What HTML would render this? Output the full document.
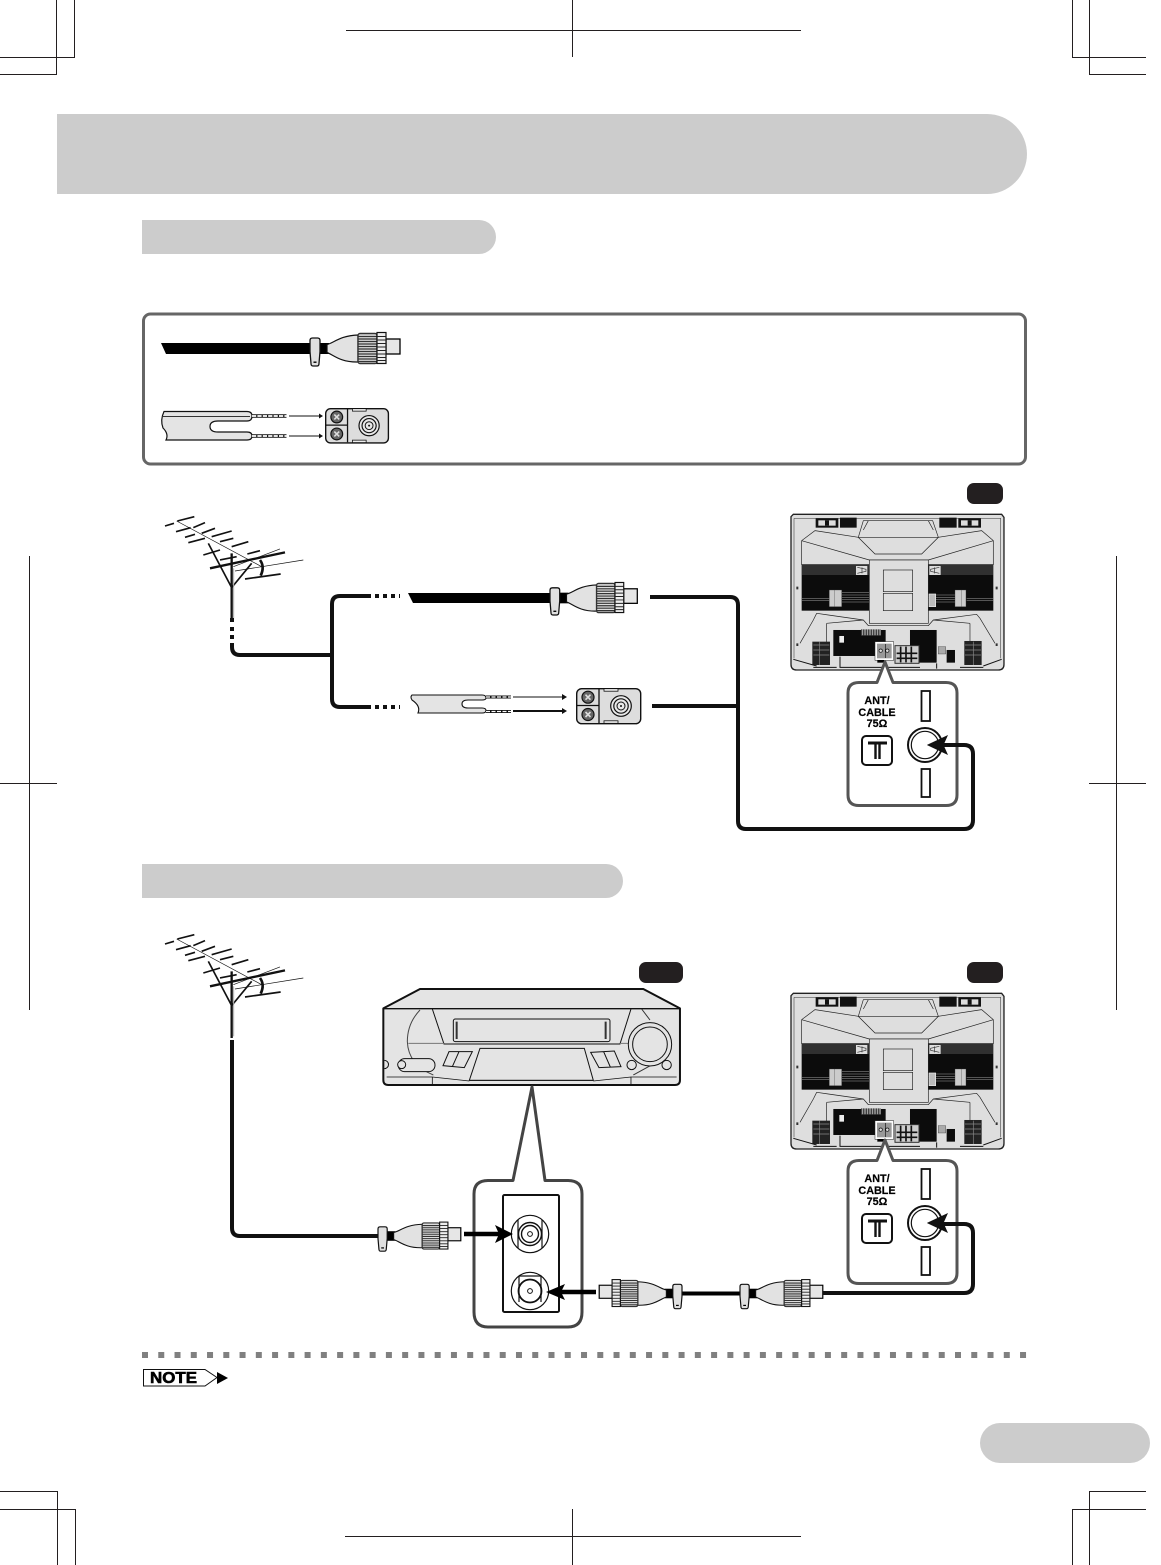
<!DOCTYPE html>
<html><head><meta charset="utf-8"><style>
html,body{margin:0;padding:0;background:#fff;width:1161px;height:1565px;overflow:hidden}
svg{display:block}
text{font-family:"Liberation Sans",sans-serif;font-weight:bold;fill:#000}
</style></head><body>
<svg width="1161" height="1565" viewBox="0 0 1161 1565" xmlns="http://www.w3.org/2000/svg">
<defs>
<g id="coax">
  <rect x="9" y="-5.5" width="10" height="11" fill="#000"/>
  <path d="M17,-4 C23,-5 30,-13 48,-13.5 L48,13.5 C30,14 23,6 17,4 Z" fill="#e2e2e2" stroke="#111" stroke-width="1.2"/>
  <rect x="76" y="-9.5" width="14" height="15" fill="#e6e6e6" stroke="#000" stroke-width="1.3"/>
  <rect x="48" y="-15" width="19" height="30" rx="2" fill="#ddd" stroke="#333" stroke-width="1.4"/>
  <path d="M48,-12H67M48,-9.5H67M48,-7H67M48,-4.5H67M48,-2H67M48,.5H67M48,3H67M48,5.5H67M48,8H67M48,10.5H67M48,13H67" stroke="#333" stroke-width="1.2"/>
  <rect x="67" y="-16" width="9" height="31" fill="#eee" stroke="#111" stroke-width="1.2"/>
  <path d="M67,-12H76M67,-8.5H76M67,-5H76M67,-1.5H76M67,2H76M67,5.5H76M67,9H76M67,12H76" stroke="#222" stroke-width="1"/>
  <path d="M2.5,-10.5H7.5Q10,-10.5 10,-8V3L9,15Q9,17.5 7,17.5H3Q1,17.5 1,15L0,3V-8Q0,-10.5 2.5,-10.5Z" fill="#e0e0e0" stroke="#111" stroke-width="1.3"/>
  <rect x="3.5" y="13" width="3" height="1.4" fill="#000"/>
</g>
<g id="term">
  <rect x="0.7" y="0.7" width="64" height="35" rx="5" fill="#ddd" stroke="#111" stroke-width="1.4"/>
  <path d="M23,1V35M1,17.5H23" stroke="#111" stroke-width="1.3" fill="none"/>
  <rect x="28" y="0.7" width="14" height="2.5" fill="#eee" stroke="#111" stroke-width=".8"/>
  <rect x="28" y="32.8" width="14" height="2.5" fill="#eee" stroke="#111" stroke-width=".8"/>
  <circle cx="12" cy="9.2" r="6" fill="#666" stroke="#111" stroke-width="1.2"/>
  <circle cx="12" cy="26.5" r="6" fill="#666" stroke="#111" stroke-width="1.2"/>
  <path d="M9.5,6.7L14.5,11.7M14.5,6.7L9.5,11.7M9.5,24L14.5,29M14.5,24L9.5,29" stroke="#ddd" stroke-width="1.6"/>
  <circle cx="45" cy="18" r="10.3" fill="#e8e8e8" stroke="#111" stroke-width="1.2"/>
  <circle cx="45" cy="18" r="7.2" fill="none" stroke="#111" stroke-width="1.2"/>
  <circle cx="45" cy="18" r="4" fill="none" stroke="#111"/>
  <circle cx="45" cy="18" r="1" fill="#111"/>
</g>
<g id="antenna" fill="none" stroke="#111" stroke-linecap="butt">
  <g transform="translate(150,505) scale(.3333)">
    <path d="M80,48L335,185" stroke-width="2"/>
    <path d="M82,48L133,35M45,63L72,55M78,80L122,68M130,68L165,53M105,97L135,88M155,85L195,70M115,113L165,100M185,95L245,78M210,110L250,100M245,125L295,110M160,150L210,135M292,147L330,137M210,165L260,155" stroke-width="5"/>
    <path d="M180,190L405,142" stroke-width="7"/>
    <path d="M255,198L460,165M250,185L390,132" stroke-width="2"/>
    <path d="M285,222L392,207" stroke-width="5"/>
    <path d="M175,115L245,248L305,175" stroke-width="5"/>
    <path d="M245,145V345" stroke-width="7"/>
    <path d="M251,190V340" stroke="#aaa" stroke-width="3"/>
    <path d="M330,165Q345,185 332,212" stroke-width="8"/>
  </g>
</g>
<g id="tv" transform="translate(780,480) scale(.3333)">
  <path d="M33,110L40,103H665L672,112V553Q672,570 655,570H50Q33,570 33,553Z" fill="#dedede" stroke="#222" stroke-width="4"/>
  <path d="M42,115H662V535M42,115V535" fill="none" stroke="#555" stroke-width="2"/>
  <rect x="107" y="115" width="68" height="28" fill="#111"/><rect x="115" y="121" width="52" height="16" fill="#ddd"/><rect x="135" y="121" width="12" height="16" fill="#111"/>
  <rect x="180" y="113" width="50" height="30" fill="#111"/>
  <rect x="478" y="113" width="52" height="30" fill="#111"/>
  <rect x="535" y="115" width="68" height="28" fill="#111"/><rect x="543" y="121" width="52" height="16" fill="#ddd"/><rect x="563" y="121" width="12" height="16" fill="#111"/>
  <path d="M250,122H458L475,172H235ZM265,122L250,150M445,122L460,150" fill="none" stroke="#222" stroke-width="2"/>
  <path d="M65,255V182L105,152L235,172L285,222H425L475,172L605,152L640,182V255M65,182L268,240H445L640,182" fill="none" stroke="#222" stroke-width="2"/>
  <rect x="65" y="253" width="217" height="139" fill="#0c0c0c"/>
  <rect x="427" y="253" width="213" height="139" fill="#0c0c0c"/>
  <path d="M66,258H282M66,264H282M66,270H282M66,276H282M66,282H282M427,258H640M427,264H640M427,270H640M427,276H640M427,282H640M186,338H282M186,345H282M186,352H282M186,359H282M186,366H282M66,356H150M66,362H150M560,356H640M560,362H640M430,345H525M430,352H525M430,359H525M430,366H525" stroke="#6e6e6e" stroke-width="2.2"/>
  <rect x="228" y="258" width="34" height="27" fill="#ddd"/>
  <path d="M232,262L258,268V274L232,280M246,262V280" stroke="#333" stroke-width="2" fill="none"/>
  <rect x="448" y="258" width="34" height="27" fill="#ddd"/>
  <path d="M478,262L452,268V274L478,280M464,262V280" stroke="#333" stroke-width="2" fill="none"/>
  <rect x="148" y="330" width="37" height="50" fill="#ccc" stroke="#333"/><path d="M163,330V380" stroke="#444"/>
  <rect x="525" y="330" width="33" height="50" fill="#ccc" stroke="#333"/><path d="M545,330V380" stroke="#444"/>
  <rect x="447" y="342" width="20" height="38" fill="#bbb" stroke="#eee" stroke-width="2"/>
  <rect x="268" y="240" width="177" height="190" fill="#dedede" stroke="#222" stroke-width="2"/>
  <rect x="310" y="270" width="88" height="65" fill="none" stroke="#222" stroke-width="2"/>
  <rect x="310" y="340" width="88" height="52" fill="none" stroke="#222" stroke-width="2"/>
  <path d="M52,320v8M650,320v8M52,490v8M650,490v8" stroke="#333" stroke-width="6"/>
  <path d="M110,400L145,405L250,420L265,437H445L460,420L590,403L600,415L645,490M110,400L100,420L60,490M140,430V530M570,430V530M140,430L250,420M570,430L460,420" fill="none" stroke="#222" stroke-width="2"/>
  <rect x="160" y="450" width="157" height="78" fill="#0c0c0c"/><rect x="178" y="468" width="14" height="20" fill="#eee"/>
  <rect x="243" y="448" width="60" height="18" fill="#ddd"/>
  <path d="M245,448V466M250,448V466M255,448V466M260,448V466M265,448V466M270,448V466M275,448V466M280,448V466M285,448V466M290,448V466M295,448V466M300,448V466" stroke="#222" stroke-width="3"/>
  <rect x="390" y="450" width="80" height="98" fill="#0c0c0c"/><rect x="500" y="510" width="25" height="38" fill="#0c0c0c"/>
  <rect x="475" y="500" width="22" height="22" fill="#aaa" stroke="#222"/>
  <rect x="97" y="485" width="53" height="70" fill="#222"/><rect x="553" y="483" width="52" height="72" fill="#222"/>
  <path d="M100,495H148M100,510H148M100,525H148M555,495H603M555,510H603M555,525H603M118,485V555M580,485V555" stroke="#888" stroke-width="2"/>
  <rect x="345" y="497" width="72" height="53" fill="#ccc" stroke="#333" stroke-width="3"/>
  <path d="M362,500V547M378,500V547M394,500V547M350,520H412M350,535H412" stroke="#111" stroke-width="5"/>
  <rect x="288" y="488" width="50" height="50" fill="#999" stroke="#fff" stroke-width="6"/>
  <rect x="285" y="485" width="56" height="56" fill="none" stroke="#222" stroke-width="1.5"/>
  <path d="M316,492V534" stroke="#111" stroke-width="2"/>
  <circle cx="302" cy="512" r="5" fill="#ddd" stroke="#111" stroke-width="2"/><circle cx="322" cy="512" r="5" fill="#ddd" stroke="#111" stroke-width="2"/>
  <rect x="292" y="540" width="20" height="8" fill="#000"/>
  <path d="M40,538L110,558M665,538L610,558M100,562H170M540,562H610M180,530V562H420M470,550V566" fill="none" stroke="#111" stroke-width="3"/>
</g>
<g id="callout">
  <path d="M861,682.5 L877,682.5 L885,662 L893,682.5 H946 Q957,682.5 957,693 V795 Q957,805.5 946,805.5 H859 Q848,805.5 848,795 V693 Q848,682.5 859,682.5Z" fill="#fff" stroke="#555" stroke-width="3" stroke-linejoin="round"/>
  <text x="877" y="704" font-size="10.8" text-anchor="middle" stroke="#000" stroke-width=".2">ANT/</text>
  <text x="877" y="716" font-size="10.8" text-anchor="middle" stroke="#000" stroke-width=".2">CABLE</text>
  <text x="877" y="727" font-size="10.8" text-anchor="middle" stroke="#000" stroke-width=".2">75Ω</text>
  <rect x="862" y="736" width="30" height="29" rx="4" fill="#fff" stroke="#111" stroke-width="2"/>
  <path d="M868,743H887" stroke="#111" stroke-width="3" fill="none"/>
  <path d="M875.5,743V759M879.5,743V759" stroke="#111" stroke-width="2.4" fill="none"/>
  <rect x="921.5" y="691" width="8.5" height="30" fill="#fff" stroke="#111" stroke-width="1.8"/>
  <rect x="921.5" y="769" width="8.5" height="28" fill="#fff" stroke="#111" stroke-width="1.8"/>
  <circle cx="925" cy="745" r="17" fill="#fff" stroke="#111" stroke-width="2"/>
  <circle cx="925" cy="745" r="13.7" fill="#fff" stroke="#111" stroke-width="1.2"/>
</g>
</defs>

<!-- crop marks -->
<g stroke="#231f20" stroke-width="1" fill="none" shape-rendering="crispEdges">
  <path d="M56.5,0V74.5H0M74.5,0V57.5H0"/>
  <path d="M1089.5,0V74.5H1146M1072.5,0V57.5H1146"/>
  <path d="M57.5,1565V1491.5H0M75.5,1565V1509.5H0"/>
  <path d="M1072.5,1565V1509.5H1146M1089.5,1565V1491.5H1146"/>
  <path d="M346,30.5H801M572.5,0V57"/>
  <path d="M345,1536.5H801M572.5,1509V1565"/>
  <path d="M29.5,556V1010M0,783.5H57"/>
  <path d="M1116.5,556V1010M1089,783.5H1146"/>
</g>

<!-- bands -->
<path d="M57,114H987A40,40 0 0 1 987,194H57Z" fill="#cccccc"/>
<path d="M142,220H479A17,17 0 0 1 479,254H142Z" fill="#cccccc"/>
<path d="M142,864H606A17,17 0 0 1 606,898H142Z" fill="#cccccc"/>
<rect x="980" y="1423" width="170" height="40" rx="20" fill="#cccccc"/>

<!-- legend box -->
<rect x="143.5" y="314" width="882" height="150" rx="7" fill="#fff" stroke="#666" stroke-width="3"/>
<path d="M161,343H310V354H166Z" fill="#000"/>
<use href="#coax" transform="translate(310,348.5)"/>
<path d="M164,411.5H247Q252,411.5 252,416Q252,421 247,421H218Q210,421 210,426.5Q210,432 218,432H247Q252,432 252,436Q252,440 247,440H166Q169,434 163,428Q160,420 164,411.5Z" fill="#e4e4e4" stroke="#111" stroke-width="1.2"/>
<path d="M163,416.5H250" stroke="#333" stroke-width="1"/>
<path d="M252,416H286.5M252,436H286.5" stroke="#111" stroke-width="3.6"/>
<path d="M252,416H286.5M252,436H286.5" stroke="#fff" stroke-width="1.8" stroke-dasharray="4.2 1.2"/>
<path d="M289,416H320M289,436H320" stroke="#111" stroke-width="1"/>
<path d="M323,416L319,413.5V418.5ZM323,436L319,433.5V438.5Z" fill="#111"/>
<use href="#term" transform="translate(325,408) scale(.98)"/>

<!-- pills -->
<rect x="967" y="483" width="36" height="21" rx="7" fill="#231f20"/>
<rect x="967" y="962" width="36" height="21" rx="7" fill="#231f20"/>
<rect x="639" y="962" width="44" height="21" rx="7" fill="#231f20"/>

<!-- first diagram -->
<use href="#antenna"/>
<use href="#tv"/>
<use href="#callout"/>
<g fill="none" stroke="#111" stroke-width="4">
  <path d="M232,618v4M232,627v4M232,635v4" stroke-width="4"/>
  <path d="M232,643V647Q232,655 240,655H331"/>
  <path d="M367,596H340Q332,596 332,604V699Q332,707 340,707H367"/>
  <path d="M367,596H400M367,707H400" stroke-dasharray="4 4"/>
  <path d="M650,597H730Q738,597 738,605V821Q738,829 746,829H964Q973,829 973,820V754Q973,745 964,745H941"/>
  <path d="M652,706H738"/>
</g>
<path d="M408,593H550V603H413Z" fill="#000"/>
<use href="#coax" transform="translate(550,598) scale(.97)"/>
<path d="M412,695H482Q486,695 486,698Q486,700 482,700H468Q462,700 462,704Q462,708 468,708H482Q486,708 486,710.5Q486,713 482,713H418Q421,706 412,700Q410,697 412,695Z" fill="#e4e4e4" stroke="#111" stroke-width="1.1"/>
<path d="M486,697H511M486,711.5H511" stroke="#111" stroke-width="3"/>
<path d="M486,697H511M486,711.5H511" stroke="#fff" stroke-width="1.2" stroke-dasharray="4 1.5"/>
<path d="M513,697H563" stroke="#111" stroke-width="1"/>
<path d="M513,711H563" stroke="#111" stroke-width="2"/>
<path d="M567,697L562,694V700ZM567,711L562,708V714Z" fill="#111"/>
<use href="#term" transform="translate(576,688)"/>
<path d="M928,745L947,736L943,745L947,754Z" fill="#111" stroke="#111" stroke-width="1"/>

<!-- second diagram -->
<use href="#antenna" transform="translate(0,418)"/>
<path d="M232,1040V1228Q232,1236 240,1236H378" fill="none" stroke="#111" stroke-width="4"/>
<use href="#coax" transform="translate(378,1236) scale(.92,.87)"/>

<!-- VCR -->
<g transform="translate(375,955) scale(.3333)" fill="none" stroke="#111" stroke-width="3">
  <path d="M25,160V375Q25,390 40,390H900Q915,390 915,375V160L805,102H135Z" fill="#e4e4e4" stroke-width="6" stroke-linejoin="round"/>
  <path d="M27,161H913" stroke-width="4"/>
  <path d="M172,162L207,267H735L768,162" stroke-width="3"/>
  <rect x="235" y="192" width="470" height="68" rx="6" fill="#e4e4e4"/>
  <path d="M245,200V252M692,200V252" stroke="#333" stroke-width="6"/>
  <path d="M135,165Q97,205 97,260Q100,330 175,360" stroke="#444"/>
  <path d="M100,265H207M735,265H760" stroke="#777"/>
  <path d="M800,162L825,195M775,360L830,330" stroke="#333"/>
  <circle cx="825" cy="268" r="65" fill="#e4e4e4"/><circle cx="825" cy="268" r="52"/>
  <rect x="70" y="311" width="110" height="39" rx="19" fill="#e4e4e4"/>
  <circle cx="80" cy="329" r="12" fill="#e4e4e4"/><path d="M28,316a12,12 0 0 1 0,25"/>
  <path d="M222,290H292L268,338L204,332ZM252,290L232,335" fill="#e4e4e4"/>
  <path d="M647,292L718,288L738,335L672,338ZM686,290L706,336" fill="#e4e4e4"/>
  <path d="M315,280H628L655,376H283Z" fill="#e4e4e4"/>
  <path d="M35,366H172L283,378M655,378L768,366H905M172,366V388M768,366V388M283,376H655" stroke-width="2.5"/>
  <circle cx="770" cy="330" r="14"/><circle cx="875" cy="330" r="14"/>
</g>

<!-- VCR detail -->
<path d="M488,1180.5H513L532,1087L545,1180.5H568Q582,1180.5 582,1194V1312Q582,1327 568,1327H488Q474,1327 474,1312V1194Q474,1180.5 488,1180.5Z" fill="#fff" stroke="#444" stroke-width="3" stroke-linejoin="round"/>
<rect x="503" y="1195" width="56" height="117" rx="1.5" fill="#fff" stroke="#111" stroke-width="2"/>
<g fill="none" stroke="#111">
  <circle cx="530" cy="1234" r="18.7" fill="#fff" stroke-width="1.2"/>
  <path d="M518,1220V1248M542,1220V1248" stroke-width="1.2"/>
  <circle cx="530" cy="1234" r="11.5" stroke-width="1.4"/>
  <circle cx="530" cy="1234" r="8.5" stroke-width="1.4"/>
  <circle cx="530" cy="1234" r="2.4" stroke-width="1"/>
  <circle cx="530" cy="1291" r="18.7" fill="#fff" stroke-width="1.2"/>
  <path d="M519,1276V1302M519,1276H541V1302" stroke-width="1.2"/>
  <circle cx="530" cy="1291" r="11.5" stroke-width="1.8"/>
  <circle cx="530" cy="1291" r="2.4" stroke-width="1"/>
</g>
<path d="M464,1234H500" stroke="#000" stroke-width="4.5"/>
<path d="M513,1234L495,1225L499,1234L495,1243Z" fill="#000"/>
<path d="M560,1292H596" stroke="#000" stroke-width="4.5"/>
<path d="M546,1292L565,1284L561,1292L565,1300Z" fill="#000"/>

<path d="M680,1293.5H742" stroke="#000" stroke-width="4"/>
<use href="#coax" transform="translate(682,1293.5) scale(-.92,.87)"/>
<use href="#coax" transform="translate(740,1293.5) scale(.92,.87)"/>

<use href="#tv" transform="translate(0,479)"/>
<use href="#callout" transform="translate(0,478)"/>
<path d="M823,1293H964Q973,1293 973,1284V1233Q973,1224 964,1224H941" fill="none" stroke="#111" stroke-width="4"/>
<path d="M928,1223L947,1214L943,1223L947,1232Z" fill="#111" stroke="#111" stroke-width="1"/>

<!-- note -->
<path d="M142,1355H1027" stroke="#808080" stroke-width="6" stroke-dasharray="6 10.26"/>
<path d="M143.5,1369.5H205L217,1377.5L205,1386H143.5Z" fill="#fff" stroke="#111" stroke-width="1"/>
<path d="M217,1372L228,1378L217,1384Z" fill="#000"/>
<text x="150" y="1383" font-size="16" textLength="47" lengthAdjust="spacingAndGlyphs" stroke="#000" stroke-width=".6">NOTE</text>
</svg>
</body></html>
